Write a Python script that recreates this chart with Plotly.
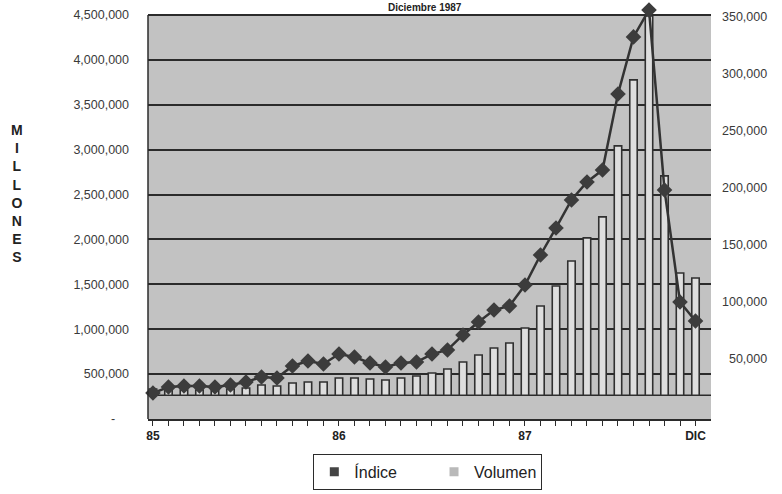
import plotly.graph_objects as go

# ---- data ----
MONTH_INDEX = list(range(36))  # Jan 1985 .. Dec 1987
X_TICK_POS = [0, 12, 24, 35]
X_TICK_LABELS = ["85", "86", "87", "DIC"]

VOLUMEN = [334000, 334000, 323000, 323000, 323000, 334000, 345000, 379000, 368000,
           401000, 412000, 412000, 457000, 457000, 446000, 435000, 457000, 479000,
           513000, 557000, 635000, 713000, 791000, 847000, 1014000, 1259000, 1482000,
           1760000, 2017000, 2251000, 3042000, 3777000, 4490000, 2708000, 1627000, 1571000]
VOLUMEN_BASE = 265000

INDICE = [19300, 24600, 25500, 25500, 24600, 26400, 29000, 33400, 32500, 43100,
          47500, 44900, 53600, 51000, 45700, 42200, 45700, 46600, 53600, 57200,
          70400, 81800, 92300, 95900, 114300, 140700, 164500, 189100, 204900, 215500,
          282300, 332500, 356200, 197900, 99400, 82700]

LEFT_TICK_VALUES = [0, 500000, 1000000, 1500000, 2000000, 2500000, 3000000, 3500000, 4000000, 4500000]
LEFT_TICK_LABELS = ["-\u2007\u2007", "500,000", "1,000,000", "1,500,000", "2,000,000", "2,500,000",
                    "3,000,000", "3,500,000", "4,000,000", "4,500,000"]
RIGHT_TICK_VALUES = [50000, 100000, 150000, 200000, 250000, 300000, 350000]
RIGHT_TICK_LABELS = ["\u200750,000", "100,000", "150,000", "200,000", "250,000", "300,000", "350,000"]

FONT = "Liberation Sans, Arial, sans-serif"
DARK = "#2b2b2b"
LEFT_MAX = 4500000

# plot area geometry (px)
TOP, BOTTOM_M = 9, 75
PLOT_H = 494 - TOP - BOTTOM_M          # 410 px
GRID_H = 404                           # px spanned by 0..4.5M
LEFT_TOP = LEFT_MAX * PLOT_H / GRID_H  # extend so the top gridline stays 6 px below plot top
R_PX = 398 / 350000                    # right axis px per unit
R_BOTTOM = -4 / R_PX
R_TOP = (PLOT_H - 4) / R_PX

fig = go.Figure()

# gray plot floor only up to the top gridline
fig.add_shape(type="rect", xref="paper", x0=0, x1=1, yref="y", y0=0, y1=LEFT_MAX,
              fillcolor="#c2c2c2", line=dict(width=0), layer="below")
fig.add_shape(type="line", xref="paper", x0=0, x1=0, yref="y", y0=0, y1=LEFT_MAX,
              line=dict(color=DARK, width=1.5), layer="above")

fig.add_trace(go.Bar(
    x=MONTH_INDEX,
    y=[v - VOLUMEN_BASE for v in VOLUMEN],
    base=VOLUMEN_BASE,
    width=0.48,
    marker=dict(color="#dedede", line=dict(color="#303030", width=1.6)),
    name="Volumen",
    showlegend=False,
    yaxis="y",
))

fig.add_trace(go.Scatter(
    x=MONTH_INDEX,
    y=INDICE,
    mode="lines+markers",
    line=dict(color="#333333", width=2.5),
    marker=dict(symbol="diamond", size=12, color="#3c3c3c"),
    name="Índice",
    showlegend=False,
    cliponaxis=False,
    yaxis="y2",
))

# legend-only entries (square swatches like the original)
fig.add_trace(go.Scatter(x=[None], y=[None], mode="markers", name="Índice\u2003\u2003",
                         marker=dict(symbol="square", size=9, color="#444444"), yaxis="y2"))
fig.add_trace(go.Scatter(x=[None], y=[None], mode="markers", name="Volumen",
                         marker=dict(symbol="square", size=9, color="#b9b9b9"), yaxis="y2"))

fig.add_shape(type="line", xref="paper", x0=0, x1=1, yref="y",
              y0=VOLUMEN_BASE, y1=VOLUMEN_BASE, line=dict(color=DARK, width=1.5), layer="below")

fig.update_layout(
    width=782, height=494,
    margin=dict(l=148, r=71, t=TOP, b=BOTTOM_M, autoexpand=False),
    paper_bgcolor="white",
    plot_bgcolor="rgba(0,0,0,0)",
    font=dict(family=FONT, size=12, color="#333333"),
    bargap=0.5,
    xaxis=dict(
        range=[-0.32, 36.0],
        automargin=False,
        tickmode="array",
        tickvals=MONTH_INDEX,
        ticktext=[X_TICK_LABELS[X_TICK_POS.index(i)] if i in X_TICK_POS else "" for i in MONTH_INDEX],
        ticks="outside", ticklen=5, tickcolor=DARK, tickwidth=1,
        showline=True, linecolor=DARK, linewidth=1.5,
        showgrid=False, zeroline=False,
        tickfont=dict(family=FONT, size=12, color="#222222", weight="bold"),
    ),
    yaxis=dict(
        range=[0, LEFT_TOP],
        automargin=False,
        tickmode="array",
        tickvals=LEFT_TICK_VALUES,
        ticktext=LEFT_TICK_LABELS,
        showgrid=True, gridcolor=DARK, gridwidth=1.5,
        showline=False,
        zeroline=False,
        ticks="", ticklabelstandoff=18,
        tickfont=dict(family=FONT, size=12.5, color="#3a3a3a"),
    ),
    yaxis2=dict(
        overlaying="y", side="right",
        automargin=False,
        range=[R_BOTTOM, R_TOP],
        tickmode="array",
        tickvals=RIGHT_TICK_VALUES,
        ticktext=RIGHT_TICK_LABELS,
        showgrid=False, zeroline=False, showline=False,
        ticks="", ticklabelstandoff=10,
        tickfont=dict(family=FONT, size=12.5, color="#3a3a3a"),
    ),
    legend=dict(
        orientation="h",
        x=0.497, xanchor="center",
        y=-0.085, yanchor="top",
        bgcolor="white", bordercolor=DARK, borderwidth=1,
        font=dict(family=FONT, size=16, color="#222222"),
        itemwidth=30,
    ),
    annotations=[
        dict(text="M<br>I<br>L<br>L<br>O<br>N<br>E<br>S", xref="paper", yref="paper",
             x=-0.232, y=0.55, xanchor="center", yanchor="middle", showarrow=False,
             font=dict(family=FONT, size=14, color="#222222", weight="bold")),
        dict(text="Diciembre 1987", xref="paper", yref="paper",
             x=0.492, y=1.0 + TOP / PLOT_H, xanchor="center", yanchor="top", showarrow=False,
             font=dict(family=FONT, size=10, color="#222222", weight="bold")),
    ],
)

fig.write_html("out.html",
               config={"displayModeBar": False},
               post_script="document.body.style.margin='0';document.body.style.overflow='hidden';")
